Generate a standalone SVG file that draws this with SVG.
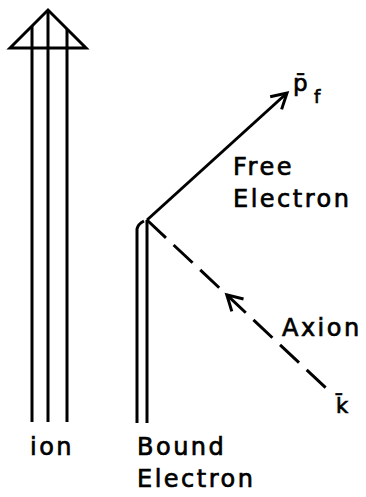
<svg xmlns="http://www.w3.org/2000/svg" width="366" height="497" viewBox="0 0 366 497">
  <style>
    .ln { fill: none; stroke: #000; stroke-width: 3; stroke-linejoin: miter; }
    .dash { stroke-dasharray: 26 10.5; }
    .lbl { font-family: "DejaVu Sans", "Liberation Sans", sans-serif; font-size: 24px; letter-spacing: 2.5px; fill: #000; stroke: #000; stroke-width: 0.7px; }
    .sym { font-family: "DejaVu Sans", "Liberation Sans", sans-serif; fill: #000; stroke: #000; stroke-width: 0.7px; }
  </style>
  <defs>
    <marker id="vee" viewBox="-20 -12 24 24" refX="0" refY="0" markerWidth="24" markerHeight="24" markerUnits="userSpaceOnUse" orient="auto">
      <path d="M-15,-8.5 L0,0 L-15,8.5" fill="none" stroke="#000" stroke-width="3"/>
    </marker>
  </defs>
  <rect width="366" height="497" fill="#fff"/>

  <g id="ion">
    <polygon class="ln" points="10,48 48,10 86,48"/>
    <line class="ln" x1="32" y1="26" x2="32" y2="422"/>
    <line class="ln" x1="48" y1="10" x2="48" y2="422"/>
    <line class="ln" x1="67" y1="29" x2="67" y2="422"/>
    <text class="lbl" x="30" y="455">ion</text>
  </g>

  <g id="bound-electron">
    <path class="ln" d="M137,423 L137,229 Q138,224 144,221"/>
    <line class="ln" x1="147" y1="220" x2="147" y2="423"/>
    <text class="lbl" x="137" y="455">Bound</text>
    <text class="lbl" x="137" y="487">Electron</text>
  </g>

  <g id="free-electron">
    <text class="lbl" x="233" y="175">Free</text>
    <text class="lbl" x="233" y="207">Electron</text>
    <text class="sym" x="293" y="91" font-size="23">p&#x0304;</text>
    <text class="sym" x="314" y="103" font-size="18">f</text>
  </g>

  <g id="axion">
    <text class="lbl" x="282" y="336">Axion</text>
    <text class="sym" x="336" y="413" font-size="21">k&#x0304;</text>
  </g>

  <g id="connectors">
    <line class="ln" x1="147" y1="220" x2="287" y2="93" marker-end="url(#vee)"/>
    <line class="ln dash" x1="147" y1="220" x2="327" y2="389"/>
    <path class="ln" d="M230.8,298.7 L226.8,294.9" marker-end="url(#vee)"/>
  </g>
</svg>
